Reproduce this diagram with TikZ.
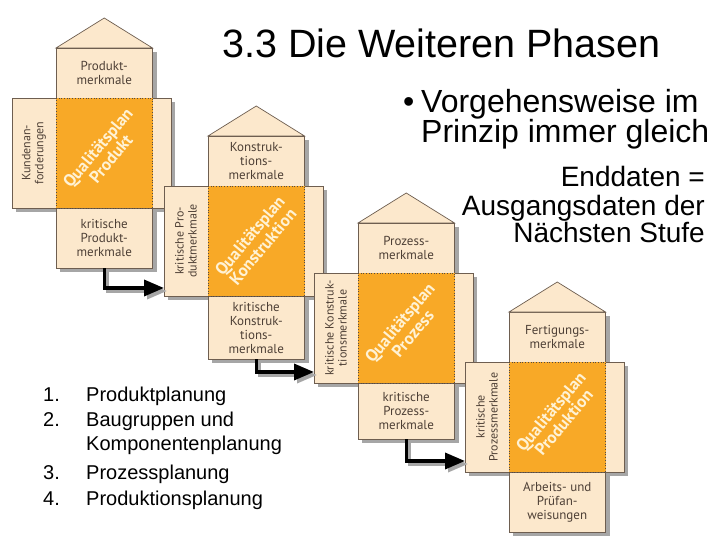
\documentclass[tikz,border=0pt]{standalone}
\usepackage{fontspec}
\setmainfont{Liberation Sans}
\newfontfamily\qfont{PT Sans}
\usetikzlibrary{arrows.meta,calc}
\definecolor{peach}{HTML}{FCE8CC}
\definecolor{qorange}{HTML}{F8A927}
\definecolor{boxline}{HTML}{6E5E50}
\definecolor{labeltxt}{HTML}{4E4036}
\definecolor{shadowgray}{HTML}{A6A6A6}
\definecolor{qtext}{HTML}{FFF2D4}
\tikzset{
  pbox/.style={draw=boxline, fill=peach, line width=0.7pt, anchor=north west, inner sep=0pt, outer sep=0pt},
  pfill/.style={draw=boxline, fill=peach, line width=0.7pt, line join=miter},
  planbox/.style={pbox, fill=qorange, draw=boxline!80!black, dotted, line width=0.8pt},
  lbl/.style={font=\qfont\fontsize{13}{14}\selectfont, text=labeltxt, align=center, inner sep=0pt},
  sidelbl/.style={font=\qfont\fontsize{12}{13}\selectfont, text=labeltxt, align=center, inner sep=0pt, rotate=90},
  plbl/.style={font=\qfont\bfseries\fontsize{17}{17}\selectfont, text=qtext, align=center, inner sep=0pt, rotate=50},
  arr/.style={line width=3.5pt, black, -{Triangle[length=20pt,width=16pt]}},
  arrsh/.style={line width=3.5pt, shadowgray, -{Triangle[length=20pt,width=16pt]}, transform canvas={xshift=3pt,yshift=-3pt}},
  bigtxt/.style={font=\fontsize{32}{32}\selectfont, inner sep=0pt},
  midtxt/.style={font=\fontsize{28}{28}\selectfont, inner sep=0pt, anchor=base east},
  listtxt/.style={font=\fontsize{20}{20}\selectfont, inner sep=0pt, anchor=base west},
}
% #1 prefix, #2 x, #3 y, #4 bottom height, #5 top text, #6 left text, #7 plan name, #8 bottom text
\newcommand\qunit[8]{%
  \fill[shadowgray] ({#2+4},{#3+4}) rectangle ({#2+100.5},{#3+164+#4});
  \fill[shadowgray] ({#2-40},{#3+54}) rectangle ({#2+119},{#3+164});
  \node[pbox, minimum width=44pt, minimum height=110pt] (#1left) at ({#2-44},{#3+50}) {};
  \node[pbox, minimum width=18.5pt, minimum height=110pt] (#1right) at ({#2+96.5},{#3+50}) {};
  \node[pbox, minimum width=96.5pt, minimum height=50pt] (#1top) at (#2,#3) {};
  \node[pbox, minimum width=96.5pt, minimum height=#4pt] (#1bot) at ({#2},{#3+160}) {};
  \coordinate (#1apex) at ({#2+48.25},{#3-30});
  \filldraw[pfill] (#1top.north west) -- (#1apex) -- (#1top.north east) -- cycle;
  \node[planbox, minimum width=96.5pt, minimum height=110pt] (#1plan) at ({#2},{#3+50}) {};
  \node[lbl] (#1toptext) at (#1top.center) {#5};
  \node[sidelbl] (#1lefttext) at (#1left.center) {#6};
  \node[lbl] (#1bottext) at (#1bot.center) {#8};
  \node[plbl] (#1plantext) at (#1plan.center) {Qualitätsplan\\#7};
}
\begin{document}
\begin{tikzpicture}[x=1pt,y=-1pt]
\useasboundingbox (0,0) rectangle (720,540);
\fill[white] (0,0) rectangle (720,540);
\qunit{ua}{56}{48}{60}{Produkt-\\merkmale}{Kundenan-\\forderungen}{Produkt}{kritische\\Produkt-\\merkmale}
\qunit{ub}{208}{136}{63}{Konstruk-\\tions-\\merkmale}{kritische Pro-\\duktmerkmale}{Konstruktion}{kritische\\Konstruk-\\tions-\\merkmale}
\qunit{uc}{358}{223}{56}{Prozess-\\merkmale}{kritische Konstruk-\\tionsmerkmale}{Prozess}{kritische\\Prozess-\\merkmale}
\qunit{ud}{509}{312}{60}{Fertigungs-\\merkmale}{kritische\\Prozessmerkmale}{Produktion}{Arbeits- und\\Prüfan-\\weisungen}
% arrows
\draw[arrsh] (uabot.south) |- ($(ubleft.south west)+(0,-8)$);
\draw[arr] (uabot.south) |- ($(ubleft.south west)+(0,-8)$);
\draw[arrsh] (ubbot.south) |- ($(ucleft.south west)+(0,-11)$);
\draw[arr] (ubbot.south) |- ($(ucleft.south west)+(0,-11)$);
\draw[arrsh] (ucbot.south) |- ($(udleft.south west)+(0,-11)$);
\draw[arr] (ucbot.south) |- ($(udleft.south west)+(0,-11)$);
% texts
\node[font=\fontsize{39.5}{39.5}\selectfont, inner sep=0pt, anchor=base west] (title) at (222,58) {3.3 Die Weiteren Phasen};
\node[bigtxt, anchor=base west] (bul) at (403,113) {•};
\node[bigtxt, anchor=base west] (b1) at (421,113) {Vorgehensweise im};
\node[bigtxt, anchor=base west] (b2) at (421,143) {Prinzip immer gleich};
\node[midtxt] (e1) at (705,187) {Enddaten =};
\node[midtxt] (e2) at (705,215) {Ausgangsdaten der};
\node[midtxt] (e3) at (705,243) {Nächsten Stufe};
\node[listtxt] (n1) at (43,401) {1.};
\node[listtxt] (l1) at (86,401) {Produktplanung};
\node[listtxt] (n2) at (43,426) {2.};
\node[listtxt] (l2) at (86,426) {Baugruppen und};
\node[listtxt] (l2b) at (86,450) {Komponentenplanung};
\node[listtxt] (n3) at (43,479) {3.};
\node[listtxt] (l3) at (86,479) {Prozessplanung};
\node[listtxt] (n4) at (43,505) {4.};
\node[listtxt] (l4) at (86,505) {Produktionsplanung};
\end{tikzpicture}
\end{document}
